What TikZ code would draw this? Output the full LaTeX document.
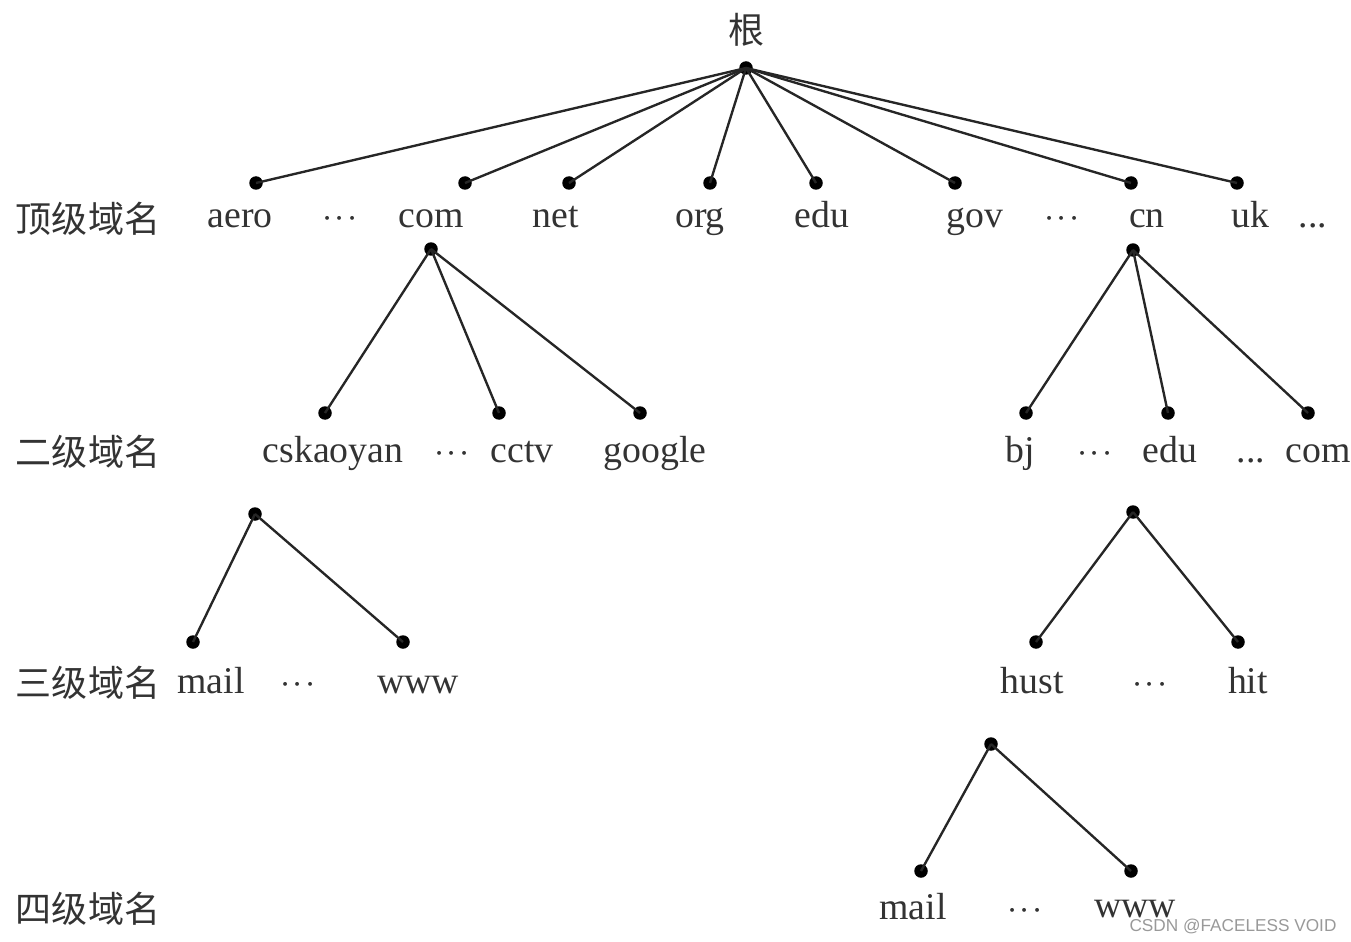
\documentclass[tikz,border=0pt]{standalone}
\usepackage{fontspec}
\setmainfont{Liberation Serif}
\newfontfamily\cjkfont{Noto Sans CJK SC}
\newfontfamily\markfont{Liberation Sans}
\usepackage{xcolor}
\usepackage{tikz}
\usetikzlibrary{positioning}
\tikzset{
    dot/.style={
        circle, fill=black, inner sep=0pt, minimum size=0.27cm
    },
    domlbl/.style={
        anchor=base, inner sep=0pt, text=black!80,
        font=\fontsize{21.5}{24}\selectfont
    },
    rowlbl/.style={
        anchor=center, inner sep=0pt, text=black!80,
        font=\cjkfont\fontsize{20.5}{24}\selectfont
    },
    branch/.style={draw=black!85, line width=1.35pt}
}
\newcommand{\ellip}{$\cdot\!\cdot\!\cdot$}

\begin{document}
\begin{tikzpicture}[x=0.02cm, y=-0.02cm]
\useasboundingbox (0,0) rectangle (1351,942);

% Root
\node[rowlbl] (rootlbl) at (746,30) {根};
\node[dot] (root) at (746,68) {};

% Level labels
\node[rowlbl] (lv1) at (88,219) {顶级域名};
\node[rowlbl] (lv2) at (88,452) {二级域名};
\node[rowlbl] (lv3) at (88,683) {三级域名};
\node[rowlbl] (lv4) at (88,909) {四级域名};

% Top row
\node[dot] (aero) at (256,183) {};
\node[dot] (com)  at (465,183) {};
\node[dot] (net)  at (569,183) {};
\node[dot] (org)  at (710,183) {};
\node[dot] (edu)  at (816,183) {};
\node[dot] (gov)  at (955,183) {};
\node[dot] (cn)   at (1131,183) {};
\node[dot] (uk)   at (1237,183) {};
\node[domlbl] (aerolbl) at (240,228) {aero};
\node[domlbl] (dotsA)   at (340,228) {\ellip};
\node[domlbl] (comlbl)  at (431,228) {com};
\node[domlbl] (netlbl)  at (556,228) {net};
\node[domlbl] (orglbl)  at (700,228) {org};
\node[domlbl] (edulbl)  at (822,228) {edu};
\node[domlbl] (govlbl)  at (975,228) {gov};
\node[domlbl] (dotsB)   at (1062,228) {\ellip};
\node[domlbl] (cnlbl)   at (1147,228) {cn};
\node[domlbl] (uklbl)   at (1250,228) {uk};
\node[domlbl] (dotsC)   at (1313,228) {...};

% Second row
\node[dot] (comsub) at (431,249) {};
\node[dot] (cnsub)  at (1133,250) {};
\node[dot] (cskaoyan) at (325,413) {};
\node[dot] (cctv)     at (499,413) {};
\node[dot] (google)   at (640,413) {};
\node[dot] (bj)       at (1026,413) {};
\node[dot] (cnedu)    at (1168,413) {};
\node[dot] (cncom)    at (1308,413) {};
\node[domlbl] (cskaoyanlbl) at (333,462) {cskaoyan};
\node[domlbl] (dotsD)       at (452,462) {\ellip};
\node[domlbl] (cctvlbl)     at (522,462) {cctv};
\node[domlbl] (googlelbl)   at (655,462) {google};
\node[domlbl] (bjlbl)       at (1020,462) {bj};
\node[domlbl] (dotsE)       at (1095,462) {\ellip};
\node[domlbl] (cnedulbl)    at (1170,462) {edu};
\node[domlbl] (dotsF)       at (1251,462) {...};
\node[domlbl] (cncomlbl)    at (1318,462) {com};

% Third row
\node[dot] (cskaoyansub) at (255,514) {};
\node[dot] (cnedusub)    at (1133,512) {};
\node[dot] (mail)  at (193,642) {};
\node[dot] (www)   at (403,642) {};
\node[dot] (hust)  at (1036,642) {};
\node[dot] (hit)   at (1238,642) {};
\node[domlbl] (maillbl) at (211,693) {mail};
\node[domlbl] (dotsG)   at (298,693) {\ellip};
\node[domlbl] (wwwlbl)  at (418,693) {www};
\node[domlbl] (hustlbl) at (1032,693) {hust};
\node[domlbl] (dotsH)   at (1150,693) {\ellip};
\node[domlbl] (hitlbl)  at (1248,693) {hit};

% Fourth row
\node[dot] (hustsub) at (991,744) {};
\node[dot] (hmail)   at (921,871) {};
\node[dot] (hwww)    at (1131,871) {};
\node[domlbl] (hmaillbl) at (913,919) {mail};
\node[domlbl] (dotsI)    at (1025,919) {\ellip};
\node[domlbl] (hwwwlbl)  at (1135,917) {www};

% Links
\foreach \t in {aero,com,net,org,edu,gov,cn,uk}
    \draw[branch] (root.center) -- (\t.center);
\foreach \t in {cskaoyan,cctv,google}
    \draw[branch] (comsub.center) -- (\t.center);
\foreach \t in {bj,cnedu,cncom}
    \draw[branch] (cnsub.center) -- (\t.center);
\foreach \t in {mail,www}
    \draw[branch] (cskaoyansub.center) -- (\t.center);
\foreach \t in {hust,hit}
    \draw[branch] (cnedusub.center) -- (\t.center);
\foreach \t in {hmail,hwww}
    \draw[branch] (hustsub.center) -- (\t.center);

% Watermark
\node[anchor=center, inner sep=0pt, text=black!40, font=\markfont\fontsize{9.8}{11}\selectfont]
    (mark) at (1233,926) {CSDN @FACELESS VOID};

\end{tikzpicture}
\end{document}
